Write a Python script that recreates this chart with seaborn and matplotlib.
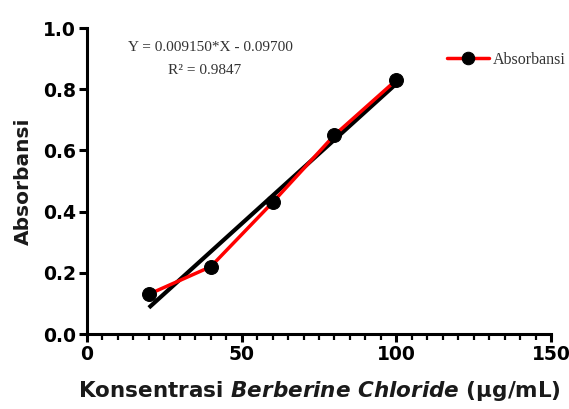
import matplotlib
matplotlib.use("Agg")
import matplotlib.pyplot as plt
from matplotlib.ticker import MultipleLocator
import seaborn as sns
import pandas as pd

concentration = [20, 40, 60, 80, 100]
absorbance = [0.13, 0.22, 0.43, 0.65, 0.83]
series_label = "Absorbansi"
equation_text = "Y = 0.009150*X - 0.09700"
r2_text = "R² = 0.9847"
x_ticks = [0, 50, 100, 150]
y_ticks = [0.0, 0.2, 0.4, 0.6, 0.8, 1.0]

sns.set_theme(style="white")
plt.rcParams['font.family'] = ['DejaVu Sans']
plt.rcParams['mathtext.fontset'] = 'custom'
plt.rcParams['mathtext.it'] = 'DejaVu Sans:bold:italic'
plt.rcParams['mathtext.bf'] = 'DejaVu Sans:bold'
plt.rcParams['mathtext.rm'] = 'DejaVu Sans:bold'

df = pd.DataFrame({"x": concentration, "y": absorbance})

fig = plt.figure(figsize=(5.69, 4.09), dpi=100)
ax = fig.add_axes([87/569, 1-334/409, (551-87)/569, (334-28)/409])

sns.regplot(data=df, x="x", y="y", ax=ax, scatter=False, ci=None, truncate=True,
            color="black", line_kws=dict(linewidth=3, solid_capstyle="butt", zorder=2))
sns.lineplot(data=df, x="x", y="y", ax=ax, color="red", linewidth=2.5,
             marker="o", markersize=10, markerfacecolor="black", markeredgecolor="black",
             label=series_label, zorder=3)

ax.set_xlim(0, 150)
ax.set_ylim(0, 1.0)
ax.set_xticks(x_ticks)
ax.set_yticks(y_ticks)
ax.set_xticklabels([str(t) for t in x_ticks])
ax.set_yticklabels([f"{t:.1f}" for t in y_ticks])
ax.xaxis.set_minor_locator(MultipleLocator(5))

for s in ["top", "right"]:
    ax.spines[s].set_visible(False)
for s in ["left", "bottom"]:
    ax.spines[s].set_linewidth(2.2)
    ax.spines[s].set_color("black")

ax.tick_params(axis="both", which="major", direction="out", length=6, width=2.2,
               labelsize=13.5, colors="black", pad=2, bottom=True, left=True)
ax.tick_params(axis="x", which="minor", direction="out", length=4, width=1.6,
               colors="black", bottom=True)
for lbl in ax.get_xticklabels() + ax.get_yticklabels():
    lbl.set_fontweight("bold")

ax.set_xlabel("Konsentrasi $\\it{Berberine\\ Chloride}$ (µg/mL)",
              fontsize=15.5, fontweight="bold", labelpad=11, color="#1a1a1a")
ax.set_ylabel(series_label, fontsize=14.5, fontweight="bold", labelpad=7, color="#1a1a1a")

ax.text(0.265, 0.935, equation_text, transform=ax.transAxes, ha="center", va="center",
        fontsize=11, family="Liberation Serif", color="#333333")
ax.text(0.254, 0.862, r2_text, transform=ax.transAxes, ha="center", va="center",
        fontsize=11, family="Liberation Serif", color="#333333")

leg = ax.legend(loc="center left", bbox_to_anchor=(447/569, 1-60/409),
                bbox_transform=fig.transFigure, frameon=False, handlelength=2.6,
                handletextpad=0.25, borderpad=0, borderaxespad=0, markerscale=0.9,
                prop=dict(family="Liberation Serif", size=11.5))
for t in leg.get_texts():
    t.set_color("#333333")

fig.savefig("out.png", dpi=100)
